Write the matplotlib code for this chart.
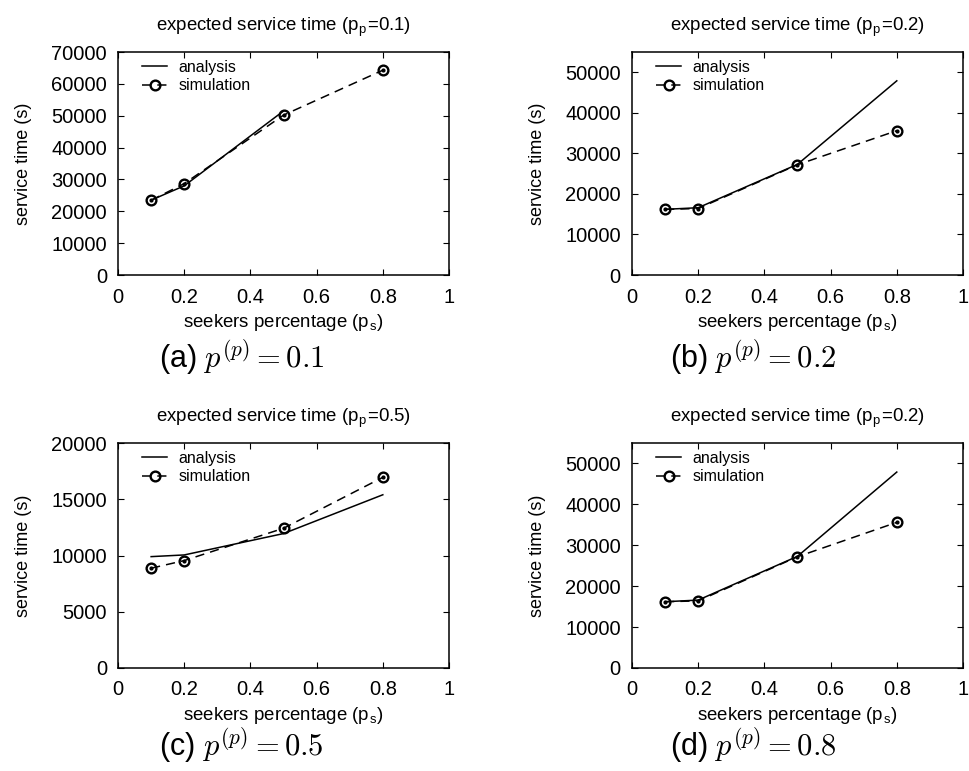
import matplotlib
matplotlib.use("Agg")
import matplotlib.pyplot as plt

plt.rcParams['font.family'] = ['Liberation Sans', 'DejaVu Sans']
plt.rcParams['mathtext.fontset'] = 'cm'

# data
ps = [0.1, 0.2, 0.5, 0.8]

ana_a = [23500, 28000, 51500]
sim_a = [23450, 28700, 50200, 64300]

ana_b = [16200, 16600, 27300, 47900]
sim_b = [16200, 16400, 27200, 35600]

ana_c = [9900, 10050, 11950, 15400]
sim_c = [8870, 9550, 12420, 16950]

ana_d = [16200, 16600, 27300, 47900]
sim_d = [16200, 16400, 27200, 35600]

titles = ["expected service time (p$_\\mathregular{p}$=0.1)",
          "expected service time (p$_\\mathregular{p}$=0.2)",
          "expected service time (p$_\\mathregular{p}$=0.5)",
          "expected service time (p$_\\mathregular{p}$=0.2)"]
captions = ["(a) $p^{(p)} = 0.1$", "(b) $p^{(p)} = 0.2$",
            "(c) $p^{(p)} = 0.5$", "(d) $p^{(p)} = 0.8$"]
ylims = [70000, 55000, 20000, 55000]
ysteps = [10000, 10000, 5000, 10000]

fig = plt.figure(figsize=(9.69, 7.71), dpi=100)

# axes boxes in figure fractions [left, bottom, width, height]
boxes = [[0.1218, 0.6433, 0.3416, 0.2892],
         [0.6522, 0.6433, 0.3416, 0.2892],
         [0.1218, 0.1336, 0.3416, 0.2918],
         [0.6522, 0.1336, 0.3416, 0.2918]]
cap_pos = [(0.249, 0.537), (0.777, 0.537), (0.249, 0.034), (0.777, 0.034)]

data = [(ana_a, sim_a), (ana_b, sim_b), (ana_c, sim_c), (ana_d, sim_d)]

for i, (ana, sim) in enumerate(data):
    ax = fig.add_axes(boxes[i])
    ax.plot(ps[:len(ana)], ana, color='black', lw=1.1, label='analysis')
    ax.plot(ps, sim, color='black', lw=1.1, dashes=(6, 4), marker='o',
            ms=7, mfc='none', mec='black', mew=1.7, label='simulation')
    ax.plot(ps, sim, ls='none', marker='o', ms=2, color='black')
    ax.set_xlim(0, 1)
    ax.set_ylim(0, ylims[i])
    ax.set_xticks([0, 0.2, 0.4, 0.6, 0.8, 1])
    ax.set_xticklabels(['0', '0.2', '0.4', '0.6', '0.8', '1'])
    ax.set_yticks(range(0, ylims[i] + 1, ysteps[i]))
    ax.tick_params(direction='in', length=4, width=0.8, top=True, right=True,
                   labelsize=14.5)
    ax.tick_params(axis='x', pad=9)
    ax.tick_params(axis='y', pad=8)
    for s in ax.spines.values():
        s.set_linewidth(1.1)
    ax.set_title(titles[i], fontsize=13.4, pad=15)
    ax.set_xlabel("seekers percentage (p$_\\mathregular{s}$)", fontsize=13.4, labelpad=4)
    ax.set_ylabel("service time (s)", fontsize=13, labelpad=14)
    ax.legend(loc='upper left', frameon=False, fontsize=11.5, handlelength=1.6,
              handletextpad=0.7, labelspacing=0.2, borderaxespad=0.1,
              bbox_to_anchor=(0.048, 1.0))
    fig.text(cap_pos[i][0], cap_pos[i][1], captions[i], fontsize=22,
             ha='center', va='center')

fig.savefig("out.png", dpi=100)
